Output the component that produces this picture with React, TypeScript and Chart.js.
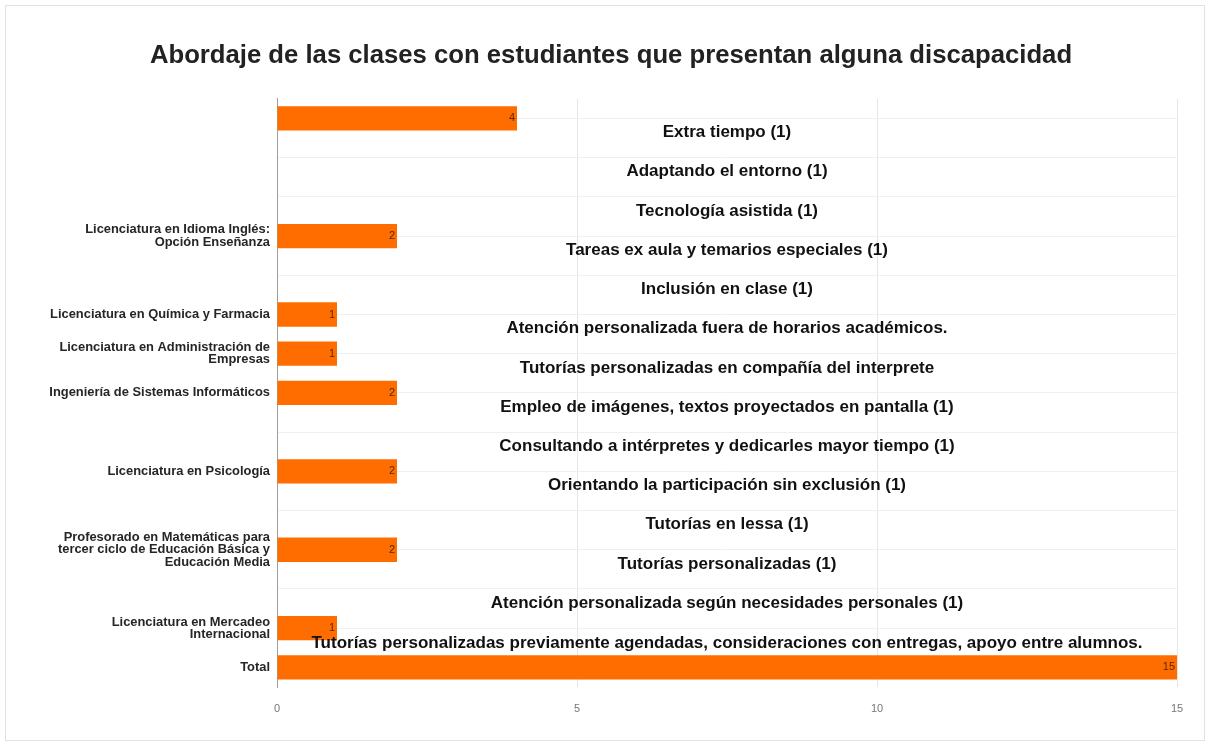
import React, { useEffect, useRef } from "react";
import { Chart, registerables } from "chart.js";

Chart.register(...registerables);

const TITLE = "Abordaje de las clases con estudiantes que presentan alguna discapacidad";

const categories: (string | string[])[] = [
  "",
  "",
  "",
  ["Licenciatura en Idioma Inglés:", "Opción Enseñanza"],
  "",
  "Licenciatura en Química y Farmacia",
  ["Licenciatura en Administración de", "Empresas"],
  "Ingeniería de Sistemas Informáticos",
  "",
  "Licenciatura en Psicología",
  "",
  ["Profesorado en Matemáticas para", "tercer ciclo de Educación Básica y", "Educación Media"],
  "",
  ["Licenciatura en Mercadeo", "Internacional"],
  "Total",
];

const values: number[] = [4, 0, 0, 2, 0, 1, 1, 2, 0, 2, 0, 2, 0, 1, 15];

const notes: string[] = [
  "Extra tiempo (1)",
  "Adaptando el entorno (1)",
  "Tecnología asistida (1)",
  "Tareas ex aula y temarios especiales (1)",
  "Inclusión en clase (1)",
  "Atención personalizada fuera de horarios académicos.",
  "Tutorías personalizadas en compañía del interprete",
  "Empleo de imágenes, textos proyectados en pantalla (1)",
  "Consultando a intérpretes y dedicarles mayor tiempo (1)",
  "Orientando la participación sin exclusión (1)",
  "Tutorías en lessa (1)",
  "Tutorías personalizadas (1)",
  "Atención personalizada según necesidades personales (1)",
  "Tutorías personalizadas previamente agendadas, consideraciones con entregas, apoyo entre alumnos.",
];

const xTicks: number[] = [0, 5, 10, 15];

const FONT = "'Liberation Sans', Arial, sans-serif";

const valueLabelPlugin = {
  id: "valueLabels",
  afterDatasetsDraw(chart: any) {
    const ctx = chart.ctx;
    const meta = chart.getDatasetMeta(0);
    ctx.save();
    ctx.font = `11px ${FONT}`;
    ctx.fillStyle = "#5a2a00";
    ctx.textAlign = "right";
    ctx.textBaseline = "middle";
    meta.data.forEach((bar: any, i: number) => {
      const v = values[i];
      if (!v) return;
      ctx.fillText(String(v), bar.x - 2, bar.y);
    });
    ctx.restore();
  },
};

const notesPlugin = {
  id: "notes",
  afterDraw(chart: any) {
    const ctx = chart.ctx;
    const y = chart.scales.y;
    const area = chart.chartArea;
    const step = y.getPixelForValue(1) - y.getPixelForValue(0);
    const cx = (area.left + area.right) / 2;
    ctx.save();
    ctx.fillStyle = "#111";
    ctx.textAlign = "center";
    ctx.textBaseline = "middle";
    notes.forEach((t, i) => {
      const py = y.getPixelForValue(i) + step * 0.36;
      ctx.font = `bold 17px ${FONT}`;
      if (i === notes.length - 1) {
        ctx.fillText(t, cx, py + 1, 835);
      } else {
        ctx.fillText(t, cx, py);
      }
    });
    ctx.restore();
  },
};

export default function App() {
  const ref = useRef<HTMLCanvasElement>(null);

  useEffect(() => {
    if (!ref.current) return;
    const chart = new Chart(ref.current, {
      type: "bar",
      data: {
        labels: categories as any,
        datasets: [
          {
            data: values,
            backgroundColor: "#ff6d00",
            borderWidth: 0,
            categoryPercentage: 1,
            barPercentage: 0.62,
          },
        ],
      },
      options: {
        indexAxis: "y",
        responsive: false,
        animation: false,
        devicePixelRatio: 1,
        layout: { padding: { left: 45, right: 33, top: 0, bottom: 0 } },
        plugins: {
          legend: { display: false },
          tooltip: { enabled: false },
          title: {
            display: true,
            text: TITLE,
            color: "#222",
            font: { family: FONT, size: 25.7, weight: "bold" },
            padding: { top: 40, bottom: 28 },
          },
        },
        scales: {
          x: {
            type: "linear",
            min: 0,
            max: 15,
            afterBuildTicks: (s: any) => {
              s.ticks = xTicks.map((v) => ({ value: v }));
            },
            afterFit: (s: any) => {
              s.height = 59;
            },
            ticks: {
              color: "#777",
              font: { family: FONT, size: 11 },
              padding: 15,
            },
            grid: { color: "#e6e6e6", drawTicks: false },
            border: { display: false },
          },
          y: {
            type: "category",
            afterFit: (s: any) => {
              s.width = 232;
            },
            ticks: {
              color: "#262626",
              font: { family: FONT, size: 12.9, weight: "bold", lineHeight: 0.95 },
              padding: 7,
              autoSkip: false,
            },
            grid: { color: "#f0f0f0", offset: false, drawTicks: false },
            border: { color: "#9e9e9e", width: 1 },
          },
        },
      },
      plugins: [valueLabelPlugin, notesPlugin],
    });
    return () => chart.destroy();
  }, []);

  return (
    <div style={{ position: "absolute", left: 0, top: 0, width: 1210, height: 746, background: "#fff" }}>
      <div
        style={{
          position: "absolute",
          left: 5,
          top: 5,
          width: 1200,
          height: 736,
          border: "1px solid #e2e2e2",
          boxSizing: "border-box",
        }}
      />
      <canvas ref={ref} width={1210} height={746} style={{ position: "absolute", left: 0, top: 0 }} />
    </div>
  );
}
